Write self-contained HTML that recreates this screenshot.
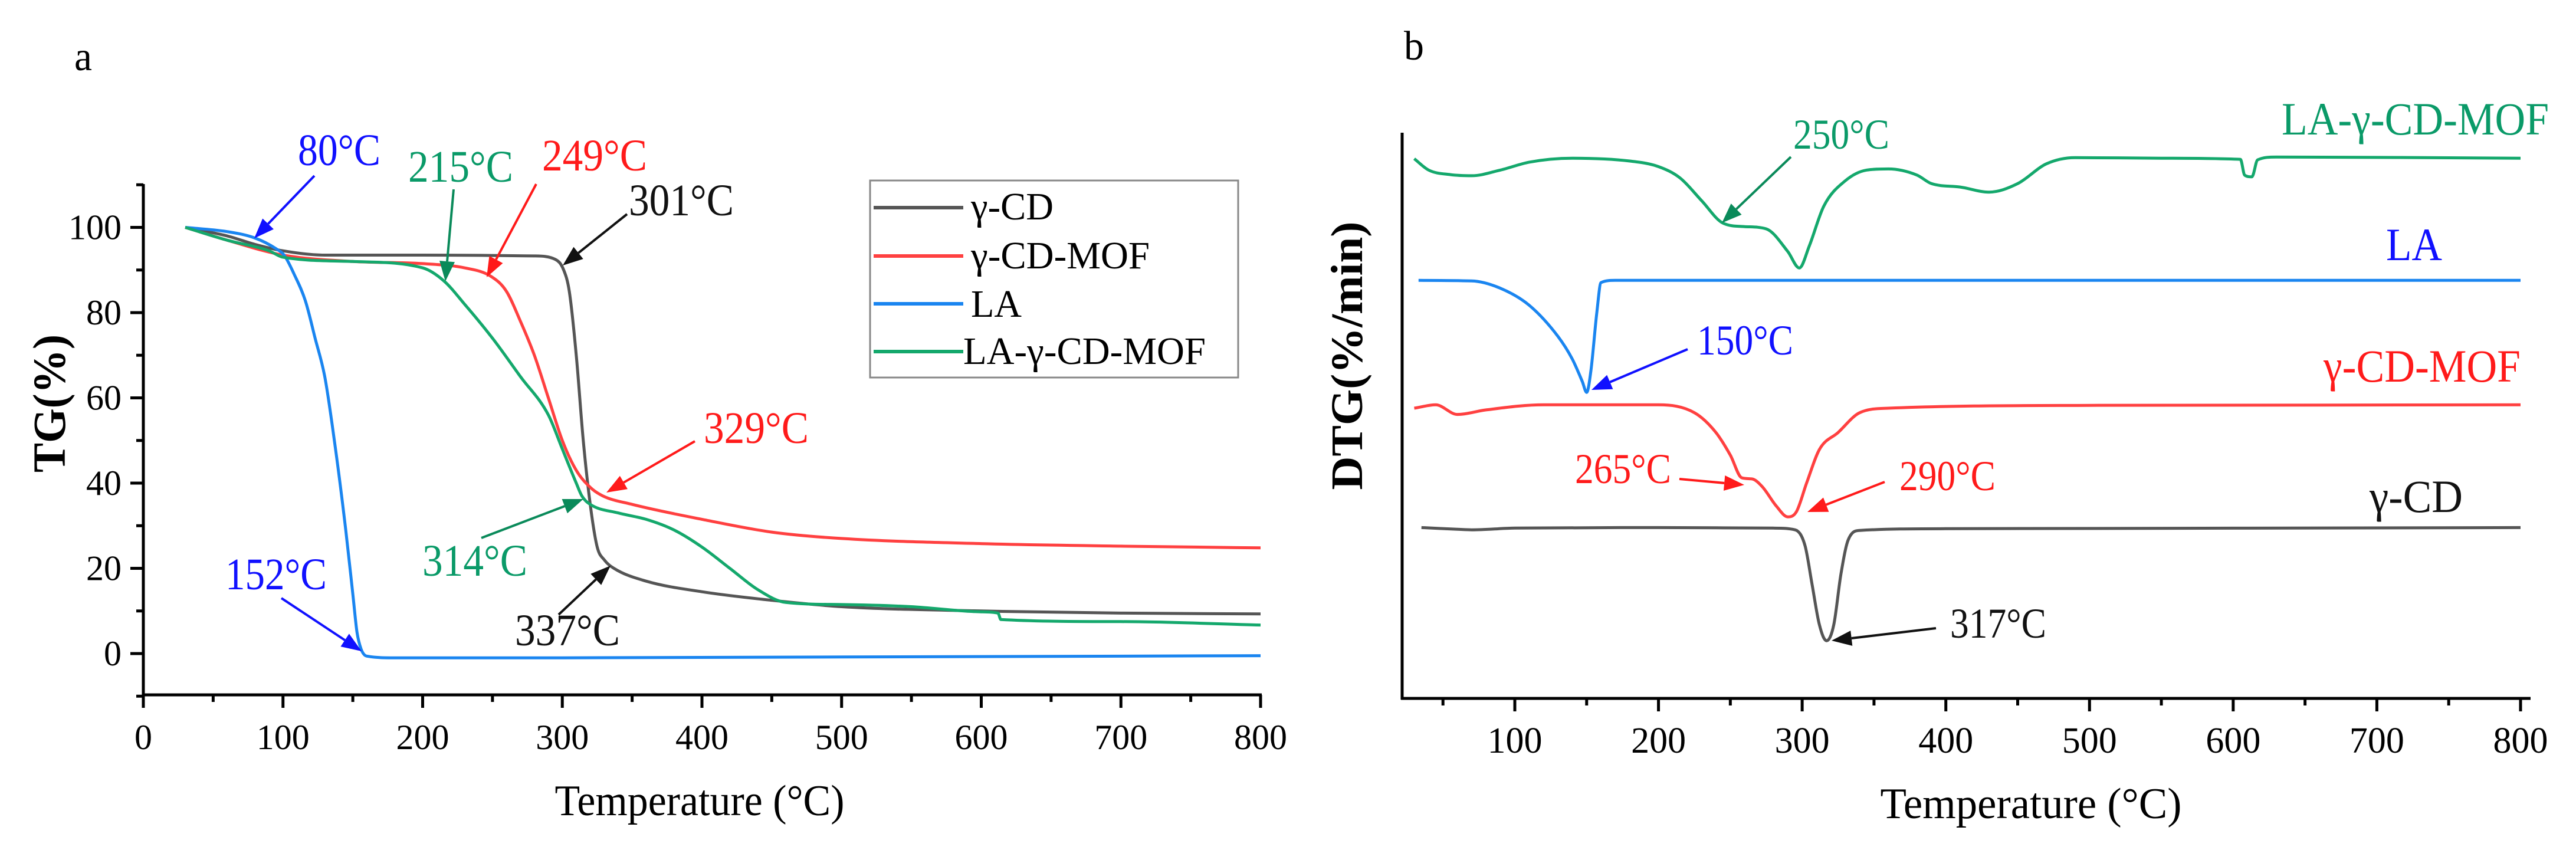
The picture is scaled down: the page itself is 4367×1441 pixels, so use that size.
<!DOCTYPE html>
<html><head><meta charset="utf-8"><style>
html,body{margin:0;padding:0;background:#fff;}
svg{display:block;}
svg text{font-family:"Liberation Serif","DejaVu Serif",serif;}
</style></head><body>
<svg id="fig" width="4367" height="1441" viewBox="0 0 4367 1441" xmlns="http://www.w3.org/2000/svg">
<rect width="4367" height="1441" fill="#fff"/>
<g id="pa"></g>
<g id="pb"></g>
</svg>
<script>
// ---------- Panel a data (TG %) ----------
const tgCdT = [30,60,80,100,130,200,280,295,301,305,310,315,320,325,330,337,360,400,450,500,600,700,800];
const tgCdV = [100,98,96,94.5,93.5,93.5,93.3,92.5,90,85,70,50,35,25,22,20,17,14.5,12.5,11,10,9.5,9.3];
const tgMofT = [30,60,100,150,200,230,249,260,270,280,290,300,310,320,329,350,400,450,500,600,700,800];
const tgMofV = [100,97,93.5,92,91.5,90.5,88.5,85,78,70,60,50,43,39,37,35,31.5,28.5,27,25.8,25.2,24.8];
const tgLaT = [30,60,80,95,101,108,116,123,130,137,145,150,153,156,160,180,300,500,800];
const tgLaV = [100,99,97.5,95,93.4,89,82.8,74,64.8,49.5,28.8,14,5,1,-0.6,-1,-1,-0.8,-0.5];
const tgLaMofT = [30,60,90,100,150,200,215,230,250,270,290,300,310,314,320,340,360,380,400,420,440,460,500,550,600,612,614,700,800];
const tgLaMofV = [100,97,94.5,93,92,90.5,87.5,82,74,65,56,48,40,37,35,33,31.5,29,25,20,15,12,11.5,11,9.8,9.5,8,7.5,6.7];
const tgXTicks = [0,100,200,300,400,500,600,700,800];
const tgYTicks = [0,20,40,60,80,100];

// ---------- Panel b data (DTG, arbitrary offset units) ----------
const dtgCdT = [35,60,70,100,200,280,295,302,307,312,317,322,327,332,340,400,800];
const dtgCdV = [30.2,29.9,29.8,30.1,30.2,30.1,29.8,27,20,13,10.2,13,22,28,29.7,30,30.2];
const dtgMofT = [30,45,60,80,120,200,225,240,250,258,265,272,282,290,296,303,312,325,340,360,500,800];
const dtgMofV = [51.3,51.9,50.2,51,51.9,51.9,50.5,47,43,39,38.8,37.5,34,32.1,33,38,44,47,50.5,51.3,51.8,51.9];
const dtgLaT = [33,70,90,110,130,140,147,150,153,157,160,170,800];
const dtgLaV = [73.9,73.8,72.5,69.5,64,60,56,54.1,58,68,73.5,73.9,73.9];
const dtgLaMofT = [30,40,55,70,90,110,140,180,200,215,230,245,260,275,290,298,305,315,330,345,360,380,390,410,430,450,470,490,550,605,608,613,617,630,800];
const dtgLaMofV = [95.4,93.4,92.6,92.4,93.4,94.8,95.5,95,94,92,88,84,83.4,83,79,76.1,80,87,91.5,93.4,93.6,92.5,91,90.4,89.5,91,94.5,95.6,95.5,95.3,92.5,92.2,95.2,95.7,95.5];
const dtgXTicks = [100,200,300,400,500,600,700,800];

const NS = "http://www.w3.org/2000/svg";
const FONT = '"Liberation Serif","DejaVu Serif",serif';
function mk(parent, tag, attrs, text) {
  const e = document.createElementNS(NS, tag);
  for (const k in attrs) e.setAttribute(k, attrs[k]);
  if (tag === "text") e.setAttribute("font-family", FONT);
  if (text !== undefined) e.textContent = text;
  parent.appendChild(e);
  return e;
}
// monotone cubic (Fritsch-Carlson) path in pixel space
function pathD(ts, vs, sx, sy) {
  const xs = ts.map(sx), ys = vs.map(sy), n = xs.length;
  const d = [], m = [];
  for (let i = 0; i < n - 1; i++) d.push((ys[i + 1] - ys[i]) / (xs[i + 1] - xs[i]));
  m[0] = d[0]; m[n - 1] = d[n - 2];
  for (let i = 1; i < n - 1; i++) m[i] = (d[i - 1] * d[i] <= 0) ? 0 : (d[i - 1] + d[i]) / 2;
  for (let i = 0; i < n - 1; i++) {
    if (d[i] === 0) { m[i] = 0; m[i + 1] = 0; continue; }
    const a = m[i] / d[i], b = m[i + 1] / d[i], s = a * a + b * b;
    if (s > 9) { const t = 3 / Math.sqrt(s); m[i] = t * a * d[i]; m[i + 1] = t * b * d[i]; }
  }
  let p = "M" + xs[0].toFixed(1) + "," + ys[0].toFixed(1);
  for (let i = 0; i < n - 1; i++) {
    const h = (xs[i + 1] - xs[i]) / 3;
    p += " C" + (xs[i] + h).toFixed(1) + "," + (ys[i] + m[i] * h).toFixed(1) + " " + (xs[i + 1] - h).toFixed(1) + "," + (ys[i + 1] - m[i + 1] * h).toFixed(1) + " " + xs[i + 1].toFixed(1) + "," + ys[i + 1].toFixed(1);
  }
  return p;
}
function arrow(parent, x1, y1, x2, y2, color, name) {
  const g = mk(parent, "g", {});
  
  
  const dx = x2 - x1, dy = y2 - y1, L = Math.hypot(dx, dy), ux = dx / L, uy = dy / L;
  const hl = 34, hw = 13;
  const bx = x2 - ux * hl, by = y2 - uy * hl;
  mk(g, "line", {x1: x1, y1: y1, x2: bx, y2: by, stroke: color, "stroke-width": 4});
  mk(g, "polygon", {points: `${x2},${y2} ${bx - uy * hw},${by + ux * hw} ${bx + uy * hw},${by - ux * hw}`, fill: color});
}
function label(parent, x, y, txt, color, size, len, name, anchor) {
  const t = mk(parent, "text", {x: x, y: y, fill: color, "font-size": size, textLength: len, lengthAdjust: "spacingAndGlyphs", "text-anchor": anchor || "start"}, txt);
  
  
  return t;
}

const GRAY = "#555555", RED = "#ff4040", BLUE = "#1a85f0", GREEN = "#14a86c";
const TBLUE = "#1010ff", TRED = "#ff1a1a", TGREEN = "#0a9a68", AGREEN = "#0a8a5a";
const AS = 76;

// ================= Panel a =================
(function () {
  const g = document.getElementById("pa");
  const X0 = 243, X1 = 2137, YB = 1178, YT = 312;
  const sx = v => X0 + (v - 0) * (X1 - X0) / 800;
  const sy = v => 1108 - v * 7.225;
  const ax = mk(g, "g", {stroke: "#000", "stroke-width": 5});
  
  
  mk(ax, "line", {x1: X0, y1: YT, x2: X0, y2: YB + 2});
  mk(ax, "line", {x1: X0 - 2, y1: YB, x2: X1 + 2, y2: YB});
  for (let v = 0; v <= 800; v += 50) {
    mk(ax, "line", {x1: sx(v), y1: YB, x2: sx(v), y2: YB + (v % 100 === 0 ? 22 : 12)});
  }
  for (let v = -10; v <= 110; v += 10) {
    mk(ax, "line", {x1: X0, y1: sy(v), x2: X0 - (v % 20 === 0 ? 22 : 12), y2: sy(v)});
  }
  tgXTicks.forEach(v => {
    const t = mk(g, "text", {x: sx(v), y: 1270, "font-size": 60, "text-anchor": "middle"}, String(v));
    
    
  });
  tgYTicks.forEach(v => {
    const t = mk(g, "text", {x: 206, y: sy(v) + 20, "font-size": 60, "text-anchor": "end"}, String(v));
    
    
  });
  label(g, 1186, 1382, "Temperature (°C)", "#000", 74, 491, "x-axis-title-a", "middle");
  const yt = mk(g, "text", {x: 0, y: 0, "font-size": 78, "font-weight": "bold", "text-anchor": "middle", textLength: 234, lengthAdjust: "spacingAndGlyphs", transform: "translate(110,684) rotate(-90)"}, "TG(%)");
  
  
  label(g, 126, 119, "a", "#000", 70, 30, "panel-label-a");

  const series = [[tgCdT, tgCdV, GRAY, "line-gamma-cd"], [tgMofT, tgMofV, RED, "line-gamma-cd-mof"], [tgLaT, tgLaV, BLUE, "line-la"], [tgLaMofT, tgLaMofV, GREEN, "line-la-gamma-cd-mof"]];
  series.forEach(s => {
    const p = mk(g, "path", {d: pathD(s[0], s[1], sx, sy), fill: "none", stroke: s[2], "stroke-width": 5, "stroke-linejoin": "round"});
    
    
  });

  // legend
  const lg = mk(g, "g", {});
  
  
  mk(lg, "rect", {x: 1475, y: 306, width: 624, height: 334, fill: "#fff", stroke: "#888", "stroke-width": 3});
  const le = [["γ-CD", GRAY, 352, 372, 1646, 140], ["γ-CD-MOF", RED, 434, 455, 1646, 303], ["LA", BLUE, 515, 537, 1646, 86], ["LA-γ-CD-MOF", GREEN, 596, 617, 1633, 411]];
  le.forEach(e => {
    const eg = mk(lg, "g", {});
    
    
    mk(eg, "line", {x1: 1481, y1: e[2], x2: 1633, y2: e[2], stroke: e[1], "stroke-width": 6});
    mk(eg, "text", {x: e[4], y: e[3], "font-size": 66, textLength: e[5], lengthAdjust: "spacingAndGlyphs"}, e[0]);
  });

  // annotations
  label(g, 505, 280, "80°C", TBLUE, AS, 140, "annotation-80c");
  arrow(g, 533, 298, 431, 404, TBLUE, "arrow-80c");
  label(g, 692, 308, "215°C", TGREEN, AS, 178, "annotation-215c");
  arrow(g, 769, 321, 755, 477, AGREEN, "arrow-215c");
  label(g, 919, 289, "249°C", TRED, AS, 178, "annotation-249c");
  arrow(g, 909, 312, 825, 470, TRED, "arrow-249c");
  label(g, 1066, 365, "301°C", "#111", AS, 178, "annotation-301c");
  arrow(g, 1063, 363, 954, 450, "#111", "arrow-301c");
  label(g, 1193, 751, "329°C", TRED, AS, 178, "annotation-329c");
  arrow(g, 1178, 748, 1028, 835, TRED, "arrow-329c");
  label(g, 716, 976, "314°C", TGREEN, AS, 178, "annotation-314c");
  arrow(g, 816, 912, 989, 846, AGREEN, "arrow-314c");
  label(g, 873, 1094, "337°C", "#111", AS, 178, "annotation-337c");
  arrow(g, 947, 1042, 1035, 959, "#111", "arrow-337c");
  label(g, 382, 999, "152°C", TBLUE, AS, 172, "annotation-152c");
  arrow(g, 477, 1014, 613, 1104, TBLUE, "arrow-152c");
})();

// ================= Panel b =================
(function () {
  const g = document.getElementById("pb");
  const X0 = 2377, X1 = 4290, YB = 1184, YT = 225;
  const sx = v => 2568 + (v - 100) * 2.4357;
  const sy = v => YB - v * 9.59;
  const ax = mk(g, "g", {stroke: "#000", "stroke-width": 5});
  
  
  mk(ax, "line", {x1: X0, y1: YT, x2: X0, y2: YB + 2});
  mk(ax, "line", {x1: X0 - 2, y1: YB, x2: X1, y2: YB});
  for (let v = 50; v <= 800; v += 50) {
    mk(ax, "line", {x1: sx(v), y1: YB, x2: sx(v), y2: YB + (v % 100 === 0 ? 22 : 12)});
  }
  dtgXTicks.forEach(v => {
    const t = mk(g, "text", {x: sx(v), y: 1276, "font-size": 62, "text-anchor": "middle"}, String(v));
    
    
  });
  label(g, 3443, 1387, "Temperature (°C)", "#000", 74, 511, "x-axis-title-b", "middle");
  const yt = mk(g, "text", {x: 0, y: 0, "font-size": 76, "font-weight": "bold", "text-anchor": "middle", textLength: 455, lengthAdjust: "spacingAndGlyphs", transform: "translate(2309,603) rotate(-90)"}, "DTG(%/min)");
  
  
  label(g, 2380, 101, "b", "#000", 70, 34, "panel-label-b");

  const series = [[dtgCdT, dtgCdV, GRAY, "dtg-line-gamma-cd"], [dtgMofT, dtgMofV, RED, "dtg-line-gamma-cd-mof"], [dtgLaT, dtgLaV, BLUE, "dtg-line-la"], [dtgLaMofT, dtgLaMofV, GREEN, "dtg-line-la-gamma-cd-mof"]];
  series.forEach(s => {
    const p = mk(g, "path", {d: pathD(s[0], s[1], sx, sy), fill: "none", stroke: s[2], "stroke-width": 5, "stroke-linejoin": "round"});
    
    
  });

  label(g, 3868, 228, "LA-γ-CD-MOF", TGREEN, 78, 453, "series-label-la-gamma-cd-mof");
  label(g, 3040, 252, "250°C", TGREEN, 72, 163, "annotation-250c");
  arrow(g, 3036, 266, 2919, 378, AGREEN, "arrow-250c");
  label(g, 4045, 441, "LA", TBLUE, 78, 95, "series-label-la");
  label(g, 2877, 601, "150°C", TBLUE, 72, 163, "annotation-150c");
  arrow(g, 2861, 592, 2698, 661, TBLUE, "arrow-150c");
  label(g, 3939, 647, "γ-CD-MOF", TRED, 78, 334, "series-label-gamma-cd-mof");
  label(g, 2670, 819, "265°C", TRED, 72, 163, "annotation-265c");
  arrow(g, 2847, 812, 2957, 822, TRED, "arrow-265c");
  label(g, 3220, 831, "290°C", TRED, 72, 163, "annotation-290c");
  arrow(g, 3195, 817, 3064, 868, TRED, "arrow-290c");
  label(g, 4017, 868, "γ-CD", "#111", 78, 158, "series-label-gamma-cd");
  label(g, 3306, 1081, "317°C", "#111", 72, 163, "annotation-317c");
  arrow(g, 3282, 1065, 3105, 1086, "#111", "arrow-317c");
})();
</script>
</body></html>
